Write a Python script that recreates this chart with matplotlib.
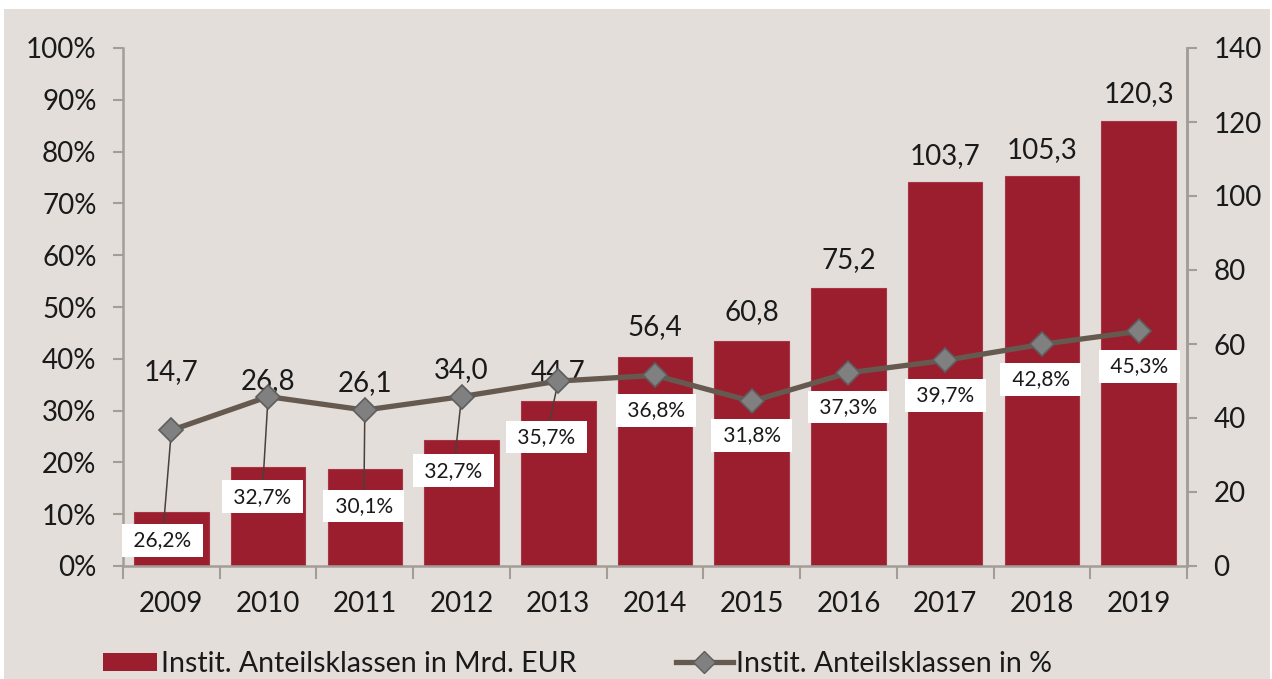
import matplotlib
matplotlib.use("Agg")
import matplotlib.pyplot as plt
from matplotlib.patches import Rectangle, Patch
from matplotlib.lines import Line2D
from matplotlib.ticker import FixedLocator

# ---- data ----
years = ["2009", "2010", "2011", "2012", "2013", "2014", "2015", "2016", "2017", "2018", "2019"]
volume_bn = [14.7, 26.8, 26.1, 34.0, 44.7, 56.4, 60.8, 75.2, 103.7, 105.3, 120.3]
share_pct = [26.2, 32.7, 30.1, 32.7, 35.7, 36.8, 31.8, 37.3, 39.7, 42.8, 45.3]
left_ticks = [0, 10, 20, 30, 40, 50, 60, 70, 80, 90, 100]
right_ticks = [0, 20, 40, 60, 80, 100, 120, 140]
legend_bar = "Instit. Anteilsklassen in Mrd. EUR"
legend_line = "Instit. Anteilsklassen in %"

# ---- layout / style (pixels) ----
bar_label_offsets = [140, 86, 86, 70, 29, 30, 29, 28, 26, 26, 27]
pct_label_offsets = [(-9, -110), (-6, -100), (-1, -96), (-8, -74), (-12, -56),
                     (1, -35), (0, -34), (0, -34), (0, -35), (-1, -35), (1, -35)]
leader = [True, True, True, True, True, False, False, False, False, False, False]

W, H = 1272, 679
BG = "#E3DEDA"
BAR = "#9B1E2F"
LINE = "#665A50"
AXC = "#A39D98"
TXT = "#1A1A1A"
FONT = ["Lato", "DejaVu Sans"]
plt.rcParams["font.family"] = FONT

fig = plt.figure(figsize=(W / 100, H / 100), dpi=100, facecolor="white")
fig.patches.append(Rectangle((4 / W, 0), (1270 - 4) / W, (H - 9) / H,
                             transform=fig.transFigure, facecolor=BG,
                             edgecolor="none", zorder=-10))

L, R, T, B = 123, 1187, 48, 566
ax = fig.add_axes([L / W, 1 - B / H, (R - L) / W, (B - T) / H])
ax.set_facecolor("none")
x = list(range(len(years)))

ax.bar(x, volume_bn, width=0.77, color=BAR, edgecolor="#A83444", linewidth=0.8, zorder=2)
ax.set_xlim(-0.5, len(years) - 0.5)
ax.set_ylim(0, 140)

for i, v in enumerate(volume_bn):
    ax.annotate(f"{v:.1f}".replace(".", ","), xy=(i, v), xytext=(0, bar_label_offsets[i]),
                textcoords="offset pixels", ha="center", va="center",
                fontsize=20, color=TXT, zorder=3)

ax2 = ax.twinx()
ax2.set_facecolor("none")
ax2.set_ylim(0, 100)

# move tick sides after twinx
ax.yaxis.tick_right()
ax.yaxis.set_label_position("right")
ax.set_yticks(right_ticks)
ax.set_yticklabels([str(v) for v in right_ticks])
ax2.yaxis.tick_left()
ax2.yaxis.set_label_position("left")
ax2.set_yticks(left_ticks)
ax2.set_yticklabels([f"{v}%" for v in left_ticks])

ax2.plot(x, share_pct, color=LINE, lw=3.8, marker="D", markersize=12,
         markerfacecolor="#808080", markeredgecolor="#5E5E5E", markeredgewidth=1.2,
         zorder=5, solid_capstyle="round")

for i, v in enumerate(share_pct):
    dx, dy = pct_label_offsets[i]
    kw = {}
    if leader[i]:
        kw["arrowprops"] = dict(arrowstyle="-", color="#4A4038", lw=1.1,
                                shrinkA=0, shrinkB=4)
    ax2.annotate(" " + f"{v:.1f}%".replace(".", ",") + " ", xy=(i, v), xytext=(dx, dy),
                 textcoords="offset pixels", ha="center", va="center",
                 fontsize=15, color=TXT, zorder=4,
                 bbox=dict(boxstyle="square,pad=0.3", facecolor="white", edgecolor="none"),
                 **kw)

# axes styling
for a in (ax, ax2):
    a.spines["top"].set_visible(False)
    for s in ("left", "right", "bottom"):
        a.spines[s].set_color(AXC)
        a.spines[s].set_linewidth(1.8)
ax.spines["left"].set_visible(False)
ax2.spines["bottom"].set_visible(False)

ax.tick_params(axis="y", direction="out", length=7, width=1.5, color=AXC,
               labelsize=20, labelcolor=TXT, pad=12, right=True, left=False,
               labelright=True, labelleft=False)
ax2.tick_params(axis="y", direction="out", length=7, width=1.5, color=AXC,
                labelsize=20, labelcolor=TXT, pad=12, left=True, right=False,
                labelleft=True, labelright=False)

ax.set_xticks(x)
ax.set_xticklabels(years)
ax.xaxis.set_minor_locator(FixedLocator([i - 0.5 for i in range(len(years) + 1)]))
ax.tick_params(axis="x", which="major", length=0, labelsize=20, labelcolor=TXT, pad=18)
ax.tick_params(axis="x", which="minor", direction="out", length=9, width=1.5, color=AXC)

# legend
h1 = Patch(facecolor=BAR, edgecolor="none")
h2 = Line2D([0], [0], color=LINE, lw=3.8, marker="D", markersize=11,
            markerfacecolor="#808080", markeredgecolor="#5E5E5E")
fs = 20.5
fig.legend([h1], [legend_bar], loc="center left", bbox_to_anchor=(103 / W, 1 - 664 / H),
           frameon=False, fontsize=fs, handlelength=1.9, handleheight=0.55,
           handletextpad=0.12, borderpad=0, borderaxespad=0, labelcolor=TXT)
fig.legend([h2], [legend_line], loc="center left", bbox_to_anchor=(676 / W, 1 - 664 / H),
           frameon=False, fontsize=fs, handlelength=2.0,
           handletextpad=0.1, borderpad=0, borderaxespad=0, labelcolor=TXT)

fig.savefig("out.png", dpi=100, facecolor="white")
